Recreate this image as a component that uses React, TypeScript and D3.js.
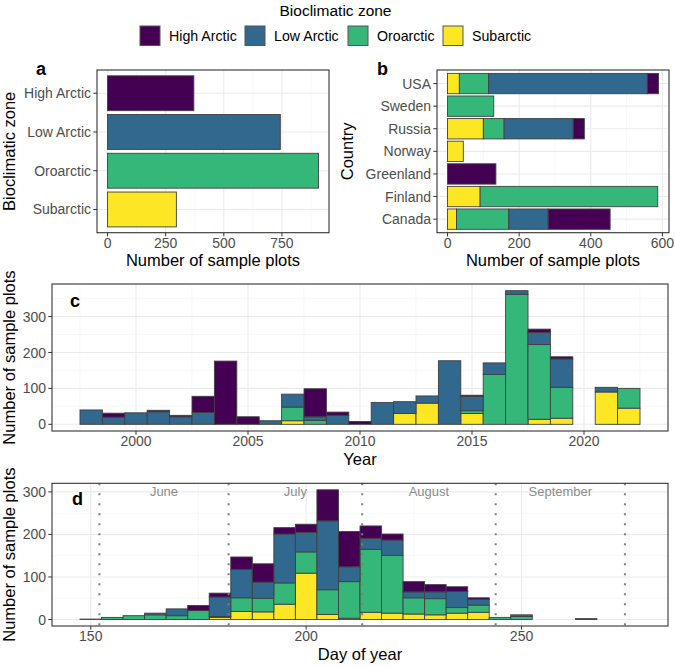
import React from "react";
import * as d3 from "d3";

// ---------- DATA ----------
const zones = ["High Arctic", "Low Arctic", "Oroarctic", "Subarctic"];
const zoneColors = ["#440154", "#31688E", "#35B779", "#FDE725"];
const zoneTotals = [371, 743, 907, 296];

const countries = ["Canada", "Finland", "Greenland", "Norway", "Russia", "Sweden", "USA"];
const countryHighArctic = [173, 0, 135, 0, 31, 0, 31];
const countryLowArctic = [110, 0, 0, 0, 193, 0, 443];
const countryOroarctic = [146, 496, 0, 0, 58, 129, 82];
const countrySubarctic = [25, 91, 0, 44, 100, 0, 33];

const years = [1998, 1999, 2000, 2001, 2002, 2003, 2004, 2005, 2006, 2007, 2008, 2009, 2010,
  2011, 2012, 2013, 2014, 2015, 2016, 2017, 2018, 2019, 2020, 2021, 2022];
const yearHighArctic = [0, 11, 0, 4, 4, 45, 176, 21, 0, 0, 78, 9, 8, 0, 0, 0, 0, 3, 0, 0, 9, 6, 0, 0, 0];
const yearLowArctic = [40, 20, 32, 35, 21, 33, 0, 0, 10, 36, 10, 25, 0, 61, 33, 20, 177, 40, 32, 10, 34, 79, 0, 13, 0];
const yearOroarctic = [0, 0, 0, 0, 0, 0, 0, 0, 0, 38, 11, 0, 0, 0, 0, 0, 0, 8, 139, 362, 208, 86, 0, 0, 55];
const yearSubarctic = [0, 0, 0, 0, 0, 0, 0, 0, 0, 10, 0, 0, 0, 0, 30, 59, 0, 30, 0, 0, 14, 17, 0, 90, 45];

const days = [150, 155, 160, 165, 170, 175, 180, 185, 190, 195, 200, 205, 210, 215, 220, 225,
  230, 235, 240, 245, 250, 255, 260, 265, 270, 275];
const dayHighArctic = [0, 0, 0, 0, 0, 12, 9, 29, 43, 15, 19, 73, 83, 29, 14, 24, 17, 11, 4, 0, 0, 0, 0, 2, 0, 0];
const dayLowArctic = [0, 0, 0, 4, 16, 0, 46, 67, 38, 115, 46, 162, 35, 26, 36, 14, 16, 38, 13, 0, 4, 0, 0, 0, 0, 0];
const dayOroarctic = [1, 5, 9, 11, 9, 21, 2, 32, 32, 50, 50, 58, 86, 148, 136, 38, 38, 13, 17, 5, 7, 0, 0, 0, 0, 0];
const daySubarctic = [0, 0, 0, 0, 0, 0, 5, 19, 18, 36, 109, 12, 3, 17, 15, 13, 11, 15, 17, 0, 0, 0, 0, 0, 0, 0];

const monthNames = ["June", "July", "August", "September"];
const monthStarts = [152, 182, 213, 244, 274];

const tickA = [0, 250, 500, 750];
const tickB = [0, 200, 400, 600];
const tickCx = [2000, 2005, 2010, 2015, 2020];
const tickCy = [0, 100, 200, 300];
const tickDx = [150, 200, 250];
const tickDy = [0, 100, 200, 300];

// ---------- STYLE ----------
const FONT = "Liberation Sans, Arial, Helvetica, sans-serif";
const TICK_COLOR = "#4D4D4D";
const BORDER = "#333333";
const GRID = "#EBEBEB";
const GRID_MINOR = "#F4F4F4";
const BAR_STROKE = "#404040";
const TICK_FS = 14;
const TITLE_FS = 16.5;

const stackOrder = ["Subarctic", "Oroarctic", "Low Arctic", "High Arctic"];
const colorOf = (z: string) => zoneColors[zones.indexOf(z)];

function minors(ticks: number[], dom: number[]) {
  const step = ticks[1] - ticks[0];
  const out: number[] = [];
  for (let v = ticks[0] - step / 2; v <= dom[1]; v += step) if (v >= dom[0]) out.push(v);
  return out;
}

function buildStack(arrs: { [k: string]: number[] }, n: number) {
  const rows = d3.range(n).map((i) => {
    const r: any = { i };
    stackOrder.forEach((k) => (r[k] = arrs[k][i]));
    return r;
  });
  return d3.stack<any>().keys(stackOrder)(rows);
}

export default function App() {
  const W = 675, H = 667;

  // ---------- Panel a ----------
  const aL = 97, aR = 329, aT = 70, aB = 232.7;
  const aMax = d3.max(zoneTotals) as number;
  const xa = d3.scaleLinear().domain([-aMax * 0.05, aMax * 1.05]).range([aL, aR]);
  const ya = d3.scalePoint<string>().domain(zones).range([aT, aB]).padding(0.6);
  const aBarH = ya.step() * 0.9;

  // ---------- Panel b ----------
  const bL = 437, bR = 669, bT = 70, bB = 232.7;
  const bStack = buildStack({
    "High Arctic": countryHighArctic, "Low Arctic": countryLowArctic,
    "Oroarctic": countryOroarctic, "Subarctic": countrySubarctic,
  }, countries.length);
  const bMax = d3.max(bStack[bStack.length - 1], (d) => d[1]) as number;
  const xb = d3.scaleLinear().domain([-bMax * 0.05, bMax * 1.05]).range([bL, bR]);
  const yb = d3.scalePoint<string>().domain(countries.slice().reverse()).range([bT, bB]).padding(0.6);
  const bBarH = yb.step() * 0.9;

  // ---------- Panel c ----------
  const cL = 52, cR = 668, cT = 284, cB = 431;
  const cStack = buildStack({
    "High Arctic": yearHighArctic, "Low Arctic": yearLowArctic,
    "Oroarctic": yearOroarctic, "Subarctic": yearSubarctic,
  }, years.length);
  const cMax = d3.max(cStack[cStack.length - 1], (d) => d[1]) as number;
  const cx0 = years[0] - 0.5, cx1 = years[years.length - 1] + 0.5;
  const cExp = (cx1 - cx0) * 0.05;
  const xc = d3.scaleLinear().domain([cx0 - cExp, cx1 + cExp]).range([cL, cR]);
  const yc = d3.scaleLinear().domain([-cMax * 0.05, cMax * 1.05]).range([cB, cT]);

  // ---------- Panel d ----------
  const dL = 52, dR = 668, dT = 483.3, dB = 626;
  const dStack = buildStack({
    "High Arctic": dayHighArctic, "Low Arctic": dayLowArctic,
    "Oroarctic": dayOroarctic, "Subarctic": daySubarctic,
  }, days.length);
  const dMax = d3.max(dStack[dStack.length - 1], (d) => d[1]) as number;
  const dx0 = days[0] - 2.5, dx1 = days[days.length - 1] + 2.5;
  const dExp = (dx1 - dx0) * 0.05;
  const xd = d3.scaleLinear().domain([dx0 - dExp, dx1 + dExp]).range([dL, dR]);
  const yd = d3.scaleLinear().domain([-dMax * 0.05, dMax * 1.05]).range([dB, dT]);

  const vGrid = (scale: any, ticks: number[], T: number, B: number, key: string) => (
    <g key={key}>
      {minors(ticks, scale.domain()).map((v) => (
        <line key={"m" + v} x1={scale(v)} x2={scale(v)} y1={T} y2={B} stroke={GRID_MINOR} strokeWidth={0.6} />
      ))}
      {ticks.map((v) => (
        <line key={"M" + v} x1={scale(v)} x2={scale(v)} y1={T} y2={B} stroke={GRID} strokeWidth={1.1} />
      ))}
    </g>
  );
  const hGrid = (scale: any, ticks: number[], L: number, R: number, key: string) => (
    <g key={key}>
      {minors(ticks, scale.domain()).map((v) => (
        <line key={"m" + v} y1={scale(v)} y2={scale(v)} x1={L} x2={R} stroke={GRID_MINOR} strokeWidth={0.6} />
      ))}
      {ticks.map((v) => (
        <line key={"M" + v} y1={scale(v)} y2={scale(v)} x1={L} x2={R} stroke={GRID} strokeWidth={1.1} />
      ))}
    </g>
  );
  const xAxis = (scale: any, ticks: any[], B: number, fmt = (v: any) => String(v)) => (
    <g>
      {ticks.map((v) => (
        <g key={v}>
          <line x1={scale(v)} x2={scale(v)} y1={B} y2={B + 3.7} stroke={BORDER} strokeWidth={1} />
          <text x={scale(v)} y={B + 15} textAnchor="middle" fontSize={TICK_FS} fill={TICK_COLOR}>{fmt(v)}</text>
        </g>
      ))}
    </g>
  );
  const yAxis = (scale: any, ticks: any[], L: number) => (
    <g>
      {ticks.map((v) => (
        <g key={v}>
          <line x1={L - 3.7} x2={L} y1={scale(v)} y2={scale(v)} stroke={BORDER} strokeWidth={1} />
          <text x={L - 6} y={scale(v)} dy="0.36em" textAnchor="end" fontSize={TICK_FS} fill={TICK_COLOR}>{v}</text>
        </g>
      ))}
    </g>
  );
  const border = (L: number, T: number, R: number, B: number) => (
    <rect x={L} y={T} width={R - L} height={B - T} fill="none" stroke={BORDER} strokeWidth={1.1} />
  );
  const yTitle = (txt: string, x: number, y: number) => (
    <text transform={`translate(${x},${y}) rotate(-90)`} textAnchor="middle" fontSize={TITLE_FS} fill="#000">{txt}</text>
  );

  const legendX = [140, 245, 348, 443];

  return (
    <svg width={W} height={H} style={{ position: "absolute", left: 0, top: 0, background: "#fff" }} fontFamily={FONT}>
      <rect x={0} y={0} width={W} height={H} fill="#fff" />
      {/* Legend */}
      <text x={335.5} y={16} textAnchor="middle" fontSize={15.5}>Bioclimatic zone</text>
      {zones.map((z, i) => (
        <g key={z}>
          <rect x={legendX[i]} y={26} width={20} height={19.5} fill={zoneColors[i]} stroke="#555" strokeWidth={1} />
          <text x={legendX[i] + 29} y={35.8} dy="0.36em" fontSize={14.2}>{z}</text>
        </g>
      ))}

      {/* Panel a */}
      {vGrid(xa, tickA, aT, aB, "ga")}
      {zones.map((z) => (
        <line key={z} x1={aL} x2={aR} y1={ya(z)} y2={ya(z)} stroke={GRID} strokeWidth={1.1} />
      ))}
      {zones.map((z, i) => (
        <rect key={z} x={xa(0)} y={(ya(z) as number) - aBarH / 2} width={xa(zoneTotals[i]) - xa(0)} height={aBarH}
          fill={zoneColors[i]} stroke={BAR_STROKE} strokeWidth={0.9} />
      ))}
      {border(aL, aT, aR, aB)}
      {xAxis(xa, tickA, aB)}
      {zones.map((z) => (
        <g key={z}>
          <line x1={aL - 3.7} x2={aL} y1={ya(z)} y2={ya(z)} stroke={BORDER} />
          <text x={aL - 6} y={ya(z)} dy="0.36em" textAnchor="end" fontSize={TICK_FS} fill={TICK_COLOR}>{z}</text>
        </g>
      ))}
      <text x={(aL + aR) / 2} y={266} textAnchor="middle" fontSize={TITLE_FS}>Number of sample plots</text>
      {yTitle("Bioclimatic zone", 15, (aT + aB) / 2)}
      <text x={36} y={75} fontSize={18} fontWeight="bold">a</text>

      {/* Panel b */}
      {vGrid(xb, tickB, bT, bB, "gb")}
      {countries.map((c) => (
        <line key={c} x1={bL} x2={bR} y1={yb(c)} y2={yb(c)} stroke={GRID} strokeWidth={1.1} />
      ))}
      {bStack.map((layer) => (
        <g key={layer.key} fill={colorOf(layer.key)}>
          {layer.filter((d) => d[1] - d[0] > 0).map((d) => (
            <rect key={d.data.i} x={xb(d[0])} width={xb(d[1]) - xb(d[0])}
              y={(yb(countries[d.data.i]) as number) - bBarH / 2} height={bBarH}
              stroke={BAR_STROKE} strokeWidth={0.9} />
          ))}
        </g>
      ))}
      {border(bL, bT, bR, bB)}
      {xAxis(xb, tickB, bB)}
      {countries.map((c) => (
        <g key={c}>
          <line x1={bL - 3.7} x2={bL} y1={yb(c)} y2={yb(c)} stroke={BORDER} />
          <text x={bL - 6} y={yb(c)} dy="0.36em" textAnchor="end" fontSize={TICK_FS} fill={TICK_COLOR}>{c}</text>
        </g>
      ))}
      <text x={(bL + bR) / 2} y={266} textAnchor="middle" fontSize={TITLE_FS}>Number of sample plots</text>
      {yTitle("Country", 353, (bT + bB) / 2)}
      <text x={377} y={75} fontSize={18} fontWeight="bold">b</text>

      {/* Panel c */}
      {vGrid(xc, tickCx, cT, cB, "gcx")}
      {hGrid(yc, tickCy, cL, cR, "gcy")}
      {cStack.map((layer) => (
        <g key={layer.key} fill={colorOf(layer.key)}>
          {layer.map((d) => (
            <rect key={d.data.i} x={xc(years[d.data.i] - 0.5)} width={xc(years[d.data.i] + 0.5) - xc(years[d.data.i] - 0.5)}
              y={yc(d[1])} height={yc(d[0]) - yc(d[1])} stroke={BAR_STROKE} strokeWidth={0.9} />
          ))}
        </g>
      ))}
      {border(cL, cT, cR, cB)}
      {xAxis(xc, tickCx, cB)}
      {yAxis(yc, tickCy, cL)}
      <text x={(cL + cR) / 2} y={465} textAnchor="middle" fontSize={TITLE_FS}>Year</text>
      {yTitle("Number of sample plots", 15, (cT + cB) / 2)}
      <text x={70} y={307} fontSize={18} fontWeight="bold">c</text>

      {/* Panel d */}
      {vGrid(xd, tickDx, dT, dB, "gdx")}
      {hGrid(yd, tickDy, dL, dR, "gdy")}
      {dStack.map((layer) => (
        <g key={layer.key} fill={colorOf(layer.key)}>
          {layer.map((d) => (
            <rect key={d.data.i} x={xd(days[d.data.i] - 2.5)} width={xd(days[d.data.i] + 2.5) - xd(days[d.data.i] - 2.5)}
              y={yd(d[1])} height={yd(d[0]) - yd(d[1])} stroke={BAR_STROKE} strokeWidth={0.9} />
          ))}
        </g>
      ))}
      {monthStarts.map((m) => (
        <line key={m} x1={xd(m)} x2={xd(m)} y1={dT} y2={dB} stroke="#7F7F7F" strokeWidth={2} strokeDasharray="2 8" />
      ))}
      {monthNames.map((mn, i) => (
        <text key={mn} x={xd((monthStarts[i] + monthStarts[i + 1]) / 2)} y={496} textAnchor="middle" fontSize={13} fill="#8C8C8C">{mn}</text>
      ))}
      {border(dL, dT, dR, dB)}
      {xAxis(xd, tickDx, dB)}
      {yAxis(yd, tickDy, dL)}
      <text x={(dL + dR) / 2} y={660} textAnchor="middle" fontSize={TITLE_FS}>Day of year</text>
      {yTitle("Number of sample plots", 15, (dT + dB) / 2)}
      <text x={72} y={505} fontSize={18} fontWeight="bold">d</text>
    </svg>
  );
}
